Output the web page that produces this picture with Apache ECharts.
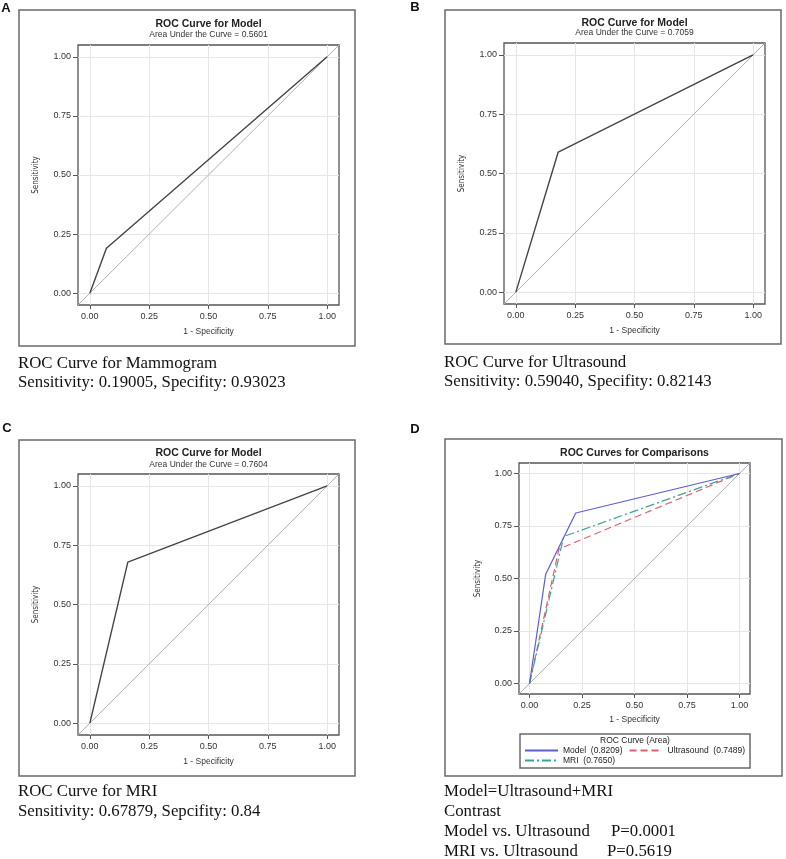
<!DOCTYPE html>
<html>
<head>
<meta charset="utf-8">
<script src="https://cdn.jsdelivr.net/npm/echarts@6/dist/echarts.min.js"></script>
<style>
html,body{margin:0;padding:0;background:#fff;}
#c{width:786px;height:859px;}
</style>
</head>
<body>
<div id="c"></div>
<script>
// ---- data ----
const tickValues = [0, 0.25, 0.5, 0.75, 1];
const refFpr = [-0.05, 1.05];
const refTpr = [-0.05, 1.05];

const mammoFpr = [0, 0.06977, 1];
const mammoTpr = [0, 0.19005, 1];
const mammoAuc = '0.5601';

const usFpr = [0, 0.17857, 1];
const usTpr = [0, 0.5904, 1];
const usAuc = '0.7059';

const mriFpr = [0, 0.16, 1];
const mriTpr = [0, 0.67879, 1];
const mriAuc = '0.7604';

const cmpModelFpr = [0, 0.077, 0.22, 1];
const cmpModelTpr = [0, 0.52, 0.812, 1];
const cmpUsFpr = [0, 0.14, 1];
const cmpUsTpr = [0, 0.64, 1];
const cmpMriFpr = [0, 0.163, 1];
const cmpMriTpr = [0, 0.70, 1];
const cmpNames = ['Model  (0.8209)', 'Ultrasound  (0.7489)', 'MRI  (0.7650)'];

// ---- helpers ----
const zip = (a, b) => a.map((v, i) => [v, b[i]]);
const SANS = '"Liberation Sans", Arial, sans-serif';
const NARROW = '"Liberation Sans Narrow", "Arial Narrow", "DejaVu Sans Condensed", sans-serif';
const SERIF = '"Liberation Serif", "Times New Roman", serif';

const grids = [
  {left: 78, top: 45, width: 261, height: 260},
  {left: 504, top: 43, width: 261, height: 261},
  {left: 78, top: 474, width: 261, height: 261},
  {left: 519, top: 463, width: 231, height: 231}
];

function xAx(i, nameGap) {
  return {
    type: 'value', gridIndex: i, min: -0.05, max: 1.05,
    name: '1 - Specificity', nameLocation: 'middle', nameGap: nameGap,
    nameTextStyle: {fontSize: 8.5, color: '#333', fontFamily: SANS},
    axisLine: {show: false, onZero: false},
    axisTick: {show: true, length: 4, lineStyle: {color: '#555'}, customValues: tickValues},
    axisLabel: {fontSize: 9, color: '#333', fontFamily: SANS, margin: 7, customValues: tickValues,
      formatter: v => v.toFixed(2)},
    splitLine: {show: true, lineStyle: {color: '#e6e6e6', width: 1}}
  };
}
function yAx(i, nameGap) {
  return {
    type: 'value', gridIndex: i, min: -0.05, max: 1.05,
    name: 'Sensitivity', nameLocation: 'middle', nameGap: nameGap,
    nameTextStyle: {fontSize: 8, color: '#333', fontFamily: NARROW},
    axisLine: {show: false, onZero: false},
    axisTick: {show: true, length: 5, lineStyle: {color: '#555'}, customValues: tickValues},
    axisLabel: {fontSize: 9, color: '#333', fontFamily: SANS, margin: 7, customValues: tickValues,
      formatter: v => v.toFixed(2)},
    splitLine: {show: true, lineStyle: {color: '#e6e6e6', width: 1}}
  };
}

function refSeries(i) {
  return {type: 'line', xAxisIndex: i, yAxisIndex: i, data: zip(refFpr, refTpr),
    symbol: 'none', lineStyle: {color: '#b0b0b0', width: 1}, silent: true, z: 1};
}
function rocSeries(i, fpr, tpr) {
  return {type: 'line', xAxisIndex: i, yAxisIndex: i, data: zip(fpr, tpr),
    symbol: 'none', lineStyle: {color: '#444', width: 1.4}, z: 3};
}

const cmpColors = ['#5b5fcf', '#e2606c', '#3fa394'];

const series = [
  refSeries(0), rocSeries(0, mammoFpr, mammoTpr),
  refSeries(1), rocSeries(1, usFpr, usTpr),
  refSeries(2), rocSeries(2, mriFpr, mriTpr),
  refSeries(3),
  {name: cmpNames[0], type: 'line', xAxisIndex: 3, yAxisIndex: 3, data: zip(cmpModelFpr, cmpModelTpr),
    symbol: 'none', itemStyle: {color: cmpColors[0]}, lineStyle: {color: cmpColors[0], width: 1.2}, z: 5},
  {name: cmpNames[1], type: 'line', xAxisIndex: 3, yAxisIndex: 3, data: zip(cmpUsFpr, cmpUsTpr),
    symbol: 'none', itemStyle: {color: cmpColors[1]}, lineStyle: {color: cmpColors[1], width: 1.2, type: [7, 4]}, z: 4},
  {name: cmpNames[2], type: 'line', xAxisIndex: 3, yAxisIndex: 3, data: zip(cmpMriFpr, cmpMriTpr),
    symbol: 'none', itemStyle: {color: cmpColors[2]}, lineStyle: {color: cmpColors[2], width: 1.2, type: [9, 3, 2, 3]}, z: 4}
];

function txt(x, y, text, font) {
  return {type: 'text', x: x, y: y, silent: true, z: 10,
    style: {text: text, font: font, fill: '#111', align: 'left', verticalAlign: 'middle'}};
}
function ctext(x, y, text, font, fill) {
  return {type: 'text', x: x, y: y, silent: true, z: 10,
    style: {text: text, font: font, fill: fill || '#222', align: 'center', verticalAlign: 'middle'}};
}
function box(x, y, w, h) {
  return {type: 'rect', silent: true, z: 0, shape: {x: x, y: y, width: w, height: h},
    style: {fill: 'none', stroke: '#6a6a6a', lineWidth: 1.5}};
}

const TITLE = 'bold 10.5px ' + SANS;
const SUB = '8.5px ' + SANS;
const CAP = '16.8px ' + SERIF;
const LAB = 'bold 13px ' + SANS;

const graphics = [
  box(19, 10, 336, 336), box(445, 10, 336, 334), box(19, 440, 336, 336), box(445, 439, 337, 337),
  ctext(6, 8, 'A', LAB, '#111'), ctext(415, 7, 'B', LAB, '#111'),
  ctext(7, 428, 'C', LAB, '#111'), ctext(415, 429, 'D', LAB, '#111'),
  ctext(208.5, 24, 'ROC Curve for Model', TITLE), ctext(208.5, 35, 'Area Under the Curve = ' + mammoAuc, SUB, '#333'),
  ctext(634.5, 23, 'ROC Curve for Model', TITLE), ctext(634.5, 33, 'Area Under the Curve = ' + usAuc, SUB, '#333'),
  ctext(208.5, 453, 'ROC Curve for Model', TITLE), ctext(208.5, 465, 'Area Under the Curve = ' + mriAuc, SUB, '#333'),
  ctext(634.5, 453, 'ROC Curves for Comparisons', TITLE),
  // legend frame D
  box(520, 734, 230, 34),
  ctext(635, 741, 'ROC Curve (Area)', '8.5px ' + SANS, '#222'),
  // captions
  txt(18, 364, 'ROC Curve for Mammogram', CAP),
  txt(18, 383, 'Sensitivity: 0.19005, Specifity: 0.93023', CAP),
  txt(444, 363, 'ROC Curve for Ultrasound', CAP),
  txt(444, 382, 'Sensitivity: 0.59040, Specifity: 0.82143', CAP),
  txt(18, 792, 'ROC Curve for MRI', CAP),
  txt(18, 812, 'Sensitivity: 0.67879, Sepcifity: 0.84', CAP),
  txt(444, 792, 'Model=Ultrasound+MRI', CAP),
  txt(444, 812, 'Contrast', CAP),
  txt(444, 832, 'Model vs. Ultrasound', CAP),
  txt(611, 832, 'P=0.0001', CAP),
  txt(444, 852, 'MRI vs. Ultrasound', CAP),
  txt(607, 852, 'P=0.5619', CAP)
];

const legendCommon = {itemWidth: 33, itemHeight: 10, itemGap: 6, padding: 0, selectedMode: false,
  itemStyle: {opacity: 0, borderWidth: 0},
  textStyle: {fontSize: 8.5, color: '#222', fontFamily: SANS}};

const option = {
  animation: false,
  backgroundColor: '#fff',
  grid: grids.map(g => Object.assign({show: true, borderColor: '#555', borderWidth: 1.3, backgroundColor: 'transparent', containLabel: false}, g)),
  xAxis: [xAx(0, 22), xAx(1, 22), xAx(2, 22), xAx(3, 21)],
  yAxis: [yAx(0, 38), yAx(1, 38), yAx(2, 38), yAx(3, 37)],
  legend: [
    Object.assign({data: [cmpNames[0], cmpNames[1]], left: 524, top: 746}, legendCommon),
    Object.assign({data: [cmpNames[2]], left: 524, top: 756}, legendCommon)
  ],
  series: series,
  graphic: graphics
};

const chart = echarts.init(document.getElementById('c'), null, {renderer: 'canvas'});
chart.setOption(option);
</script>
</body>
</html>
